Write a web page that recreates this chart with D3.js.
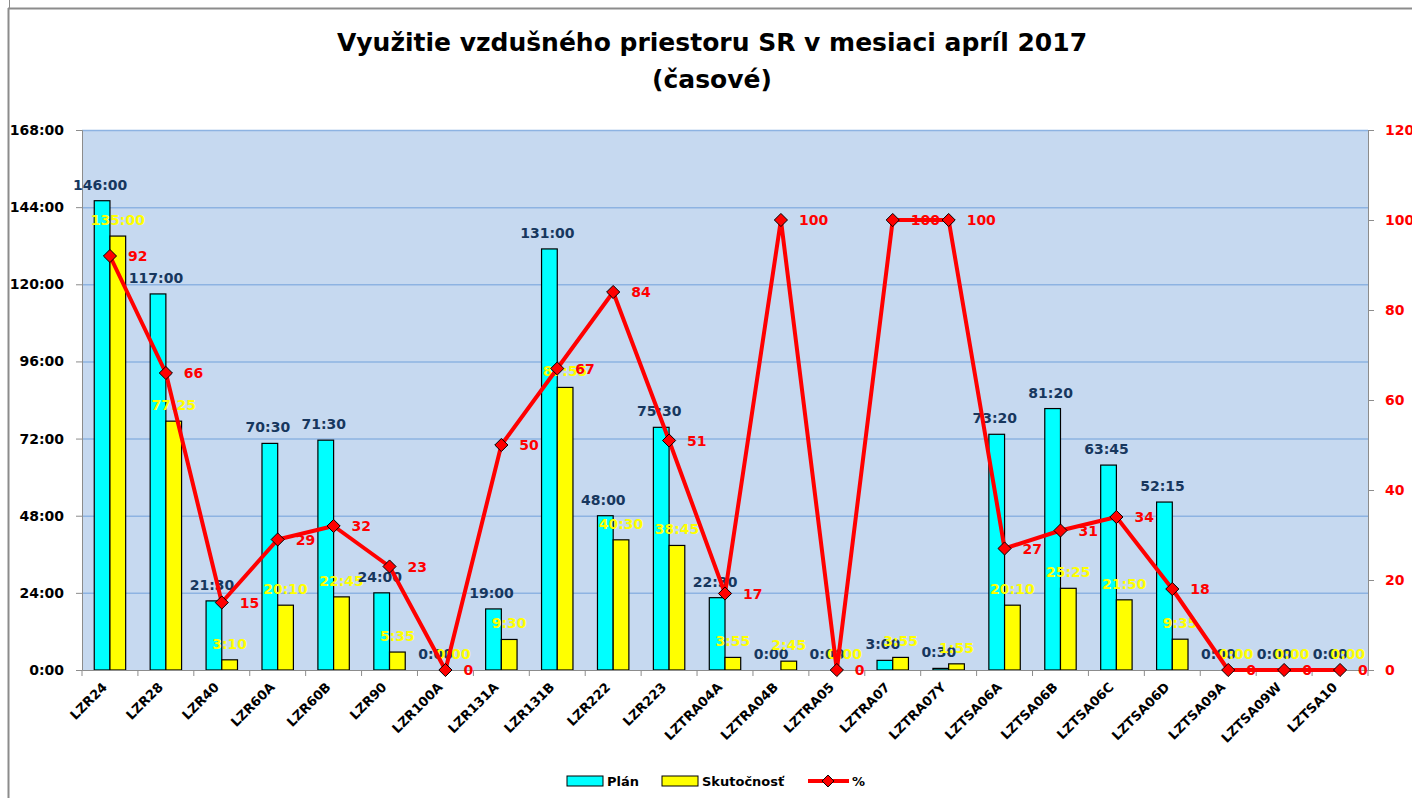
<!DOCTYPE html>
<html>
<head>
<meta charset="utf-8">
<script src="https://cdn.jsdelivr.net/npm/d3@7"></script>
<style>
  html, body { margin: 0; padding: 0; background: #fff; }
  svg { display: block; font-family: "DejaVu Sans", Verdana, sans-serif; }
</style>
</head>
<body>
<svg id="chart" width="1412" height="798"></svg>
<script>
// categories (sectors)
const sectors = ["LZR24", "LZR28", "LZR40", "LZR60A", "LZR60B", "LZR90", "LZR100A", "LZR131A",
  "LZR131B", "LZR222", "LZR223", "LZTRA04A", "LZTRA04B", "LZTRA05", "LZTRA07", "LZTRA07Y",
  "LZTSA06A", "LZTSA06B", "LZTSA06C", "LZTSA06D", "LZTSA09A", "LZTSA09W", "LZTSA10"];

// hours as h:mm
const plan = ["146:00", "117:00", "21:30", "70:30", "71:30", "24:00", "0:00", "19:00",
  "131:00", "48:00", "75:30", "22:30", "0:00", "0:00", "3:00", "0:30",
  "73:20", "81:20", "63:45", "52:15", "0:00", "0:00", "0:00"];
const actual = ["135:00", "77:25", "3:10", "20:10", "22:45", "5:35", "0:00", "9:30",
  "87:55", "40:30", "38:45", "3:55", "2:45", "0:00", "3:55", "1:55",
  "20:10", "25:25", "21:50", "9:35", "0:00", "0:00", "0:00"];
const percent = [92, 66, 15, 29, 32, 23, 0, 50, 67, 84, 51, 17, 100, 0, 100, 100, 27, 31, 34, 18, 0, 0, 0];

const leftTicks = [0, 24, 48, 72, 96, 120, 144, 168];
const rightTicks = [0, 20, 40, 60, 80, 100, 120];

const toHours = s => { const [h, m] = s.split(":").map(Number); return h + m / 60; };
const fmtHours = v => Math.floor(v) + ":" + String(Math.round((v % 1) * 60)).padStart(2, "0");

const data = sectors.map((name, i) => ({
  name, plan: toHours(plan[i]), actual: toHours(actual[i]),
  planLabel: plan[i], actualLabel: actual[i], pct: percent[i]
}));

const svg = d3.select("#chart");
const m = { left: 82, right: 1368, top: 130, bottom: 670 };

// frame
svg.append("line").attr("x1", 8).attr("x2", 1412).attr("y1", 8.5).attr("y2", 8.5)
  .attr("stroke", "#8c8c8c").attr("stroke-width", 2);
svg.append("line").attr("x1", 8.5).attr("x2", 8.5).attr("y1", 8).attr("y2", 798)
  .attr("stroke", "#8c8c8c").attr("stroke-width", 2);
svg.append("line").attr("x1", 9.5).attr("x2", 9.5).attr("y1", 0).attr("y2", 8)
  .attr("stroke", "#8c8c8c").attr("stroke-width", 1);

// title
svg.append("text").attr("x", 712).attr("y", 51).attr("text-anchor", "middle")
  .attr("font-size", 25).attr("font-weight", "bold").attr("fill", "#000")
  .text("Využitie vzdušného priestoru SR v mesiaci apríl 2017");
svg.append("text").attr("x", 712).attr("y", 88).attr("text-anchor", "middle")
  .attr("font-size", 25).attr("font-weight", "bold").attr("fill", "#000")
  .text("(časové)");

const x = d3.scaleBand().domain(sectors).range([m.left, m.right]);
const xs = d3.scaleBand().domain(["plan", "actual"]).range([0, x.bandwidth()]).paddingInner(0).paddingOuter(0.78);
const y = d3.scaleLinear().domain([0, 168]).range([m.bottom, m.top]);
const y2 = d3.scaleLinear().domain([0, 120]).range([m.bottom, m.top]);

// plot background
svg.append("rect").attr("x", m.left).attr("y", m.top)
  .attr("width", m.right - m.left).attr("height", m.bottom - m.top)
  .attr("fill", "#c6d9f0");

// gridlines
svg.append("g").selectAll("line").data(leftTicks.slice(1)).join("line")
  .attr("x1", m.left).attr("x2", m.right)
  .attr("y1", d => y(d) + 0.5).attr("y2", d => y(d) + 0.5)
  .attr("stroke", "#8db3e2").attr("stroke-width", 1.5);

// left axis
const yAxis = svg.append("g").attr("transform", `translate(${m.left},0)`)
  .call(d3.axisLeft(y).tickValues(leftTicks).tickFormat(fmtHours).tickSizeOuter(0).tickSize(6).tickPadding(12))
  .attr("font-family", null);
yAxis.select(".domain").attr("stroke", "#8c8c8c");
yAxis.selectAll(".tick line").attr("stroke", "#8c8c8c");
yAxis.selectAll("text").attr("font-size", 14).attr("font-weight", "bold").attr("fill", "#000");

// right axis
const y2Axis = svg.append("g").attr("transform", `translate(${m.right},0)`)
  .call(d3.axisRight(y2).tickValues(rightTicks).tickSizeOuter(0).tickSize(6).tickPadding(11))
  .attr("font-family", null);
y2Axis.select(".domain").attr("stroke", "#8c8c8c");
y2Axis.selectAll(".tick line").attr("stroke", "#8c8c8c");
y2Axis.selectAll("text").attr("font-size", 14).attr("font-weight", "bold").attr("fill", "#ff0000");

// bars
const groups = svg.append("g").selectAll("g").data(data).join("g")
  .attr("transform", d => `translate(${x(d.name)},0)`);

groups.append("rect")
  .attr("x", xs("plan")).attr("width", xs.bandwidth())
  .attr("y", d => y(d.plan)).attr("height", d => y(0) - y(d.plan))
  .attr("fill", "#00ffff").attr("stroke", "#000").attr("stroke-width", 1.2);
groups.append("rect")
  .attr("x", xs("actual")).attr("width", xs.bandwidth())
  .attr("y", d => y(d.actual)).attr("height", d => y(0) - y(d.actual))
  .attr("fill", "#ffff00").attr("stroke", "#000").attr("stroke-width", 1.2);

// bottom axis
const xAxis = svg.append("g").attr("transform", `translate(0,${m.bottom})`)
  .call(d3.axisBottom(x).tickSizeOuter(0).tickSize(0));
xAxis.select(".domain").attr("stroke", "#8c8c8c");
xAxis.selectAll(".tick text").remove();
svg.append("g").selectAll("line").data(sectors.concat(["end"])).join("line")
  .attr("x1", (d, i) => m.left + i * x.step()).attr("x2", (d, i) => m.left + i * x.step())
  .attr("y1", m.bottom).attr("y2", m.bottom + 6)
  .attr("stroke", "#8c8c8c");
svg.append("g").selectAll("text").data(sectors).join("text")
  .attr("transform", d => `translate(${x(d) + x.bandwidth() / 2 - 2},${m.bottom + 18}) rotate(-45)`)
  .attr("text-anchor", "end")
  .attr("font-size", 13).attr("font-weight", "bold").attr("fill", "#000")
  .text(d => d);

// bar labels
groups.append("text")
  .attr("x", xs("plan") + xs.bandwidth() / 2 - 2)
  .attr("y", d => y(d.plan) - 11)
  .attr("text-anchor", "middle").attr("font-size", 14).attr("font-weight", "bold")
  .attr("fill", "#17375e").text(d => d.planLabel);
groups.append("text")
  .attr("x", xs("actual") + xs.bandwidth() / 2)
  .attr("y", d => y(d.actual) - 11)
  .attr("text-anchor", "middle").attr("font-size", 14).attr("font-weight", "bold")
  .attr("fill", "#ffff00").text(d => d.actualLabel);

// percent line
const cx = d => x(d.name) + x.bandwidth() / 2;
svg.append("path").datum(data)
  .attr("fill", "none").attr("stroke", "#ff0000").attr("stroke-width", 4)
  .attr("stroke-linejoin", "round")
  .attr("d", d3.line().x(cx).y(d => y2(d.pct)));

svg.append("g").selectAll("path").data(data).join("path")
  .attr("transform", d => `translate(${cx(d)},${y2(d.pct)})`)
  .attr("d", d3.symbol(d3.symbolDiamond2, 110))
  .attr("fill", "#ff0000").attr("stroke", "#000").attr("stroke-width", 1);

svg.append("g").selectAll("text").data(data).join("text")
  .attr("x", d => cx(d) + 18).attr("y", d => y2(d.pct) + 5)
  .attr("font-size", 14).attr("font-weight", "bold").attr("fill", "#ff0000")
  .text(d => d.pct);

// legend
const lg = svg.append("g").attr("transform", "translate(0,781)");
lg.append("rect").attr("x", 567).attr("y", -5).attr("width", 36).attr("height", 10)
  .attr("fill", "#00ffff").attr("stroke", "#000");
lg.append("text").attr("x", 607).attr("y", 5).attr("font-size", 13).attr("font-weight", "bold").text("Plán");
lg.append("rect").attr("x", 662).attr("y", -5).attr("width", 36).attr("height", 10)
  .attr("fill", "#ffff00").attr("stroke", "#000");
lg.append("text").attr("x", 702).attr("y", 5).attr("font-size", 13).attr("font-weight", "bold").text("Skutočnosť");
lg.append("line").attr("x1", 808).attr("x2", 849).attr("y1", 0).attr("y2", 0)
  .attr("stroke", "#ff0000").attr("stroke-width", 4);
lg.append("path").attr("transform", "translate(828,0)")
  .attr("d", d3.symbol(d3.symbolDiamond2, 90))
  .attr("fill", "#ff0000").attr("stroke", "#000");
lg.append("text").attr("x", 852).attr("y", 5).attr("font-size", 13).attr("font-weight", "bold").text("%");
</script>
</body>
</html>
